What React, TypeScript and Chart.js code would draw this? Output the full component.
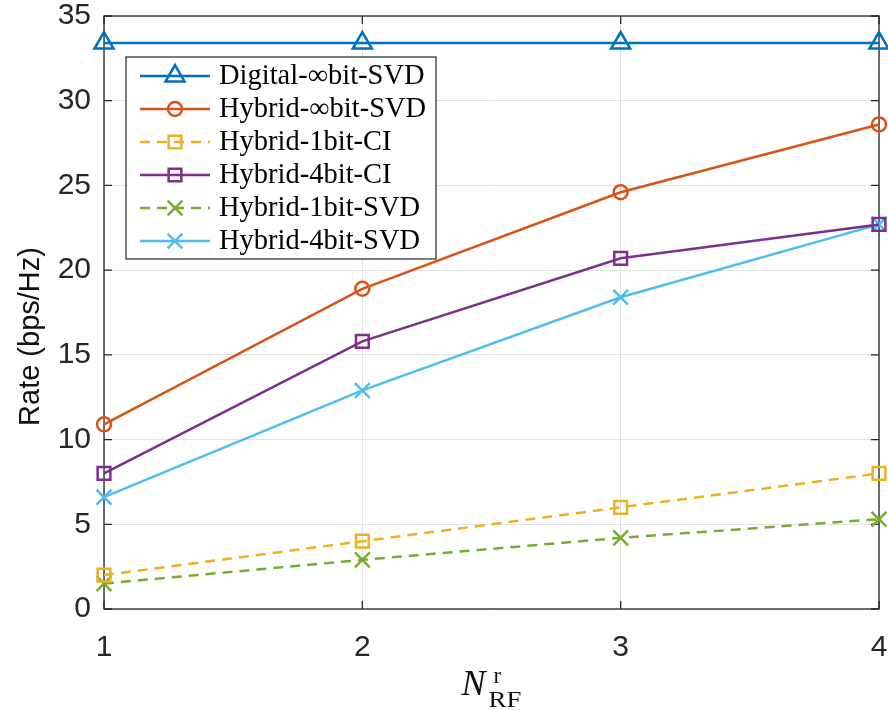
import React, { useEffect, useRef } from 'react';
import { Chart, registerables } from 'chart.js';

Chart.register(...registerables);

// ---- data ----
const categories = [1, 2, 3, 4];
const yTickValues = [0, 5, 10, 15, 20, 25, 30, 35];
const seriesLabels = [
  'Digital-\u221Ebit-SVD',
  'Hybrid-\u221Ebit-SVD',
  'Hybrid-1bit-CI',
  'Hybrid-4bit-CI',
  'Hybrid-1bit-SVD',
  'Hybrid-4bit-SVD',
];
const digitalInfSVD = [33.4, 33.4, 33.4, 33.4];
const hybridInfSVD = [10.9, 18.9, 24.6, 28.6];
const hybrid1bitCI = [2.0, 4.0, 6.0, 8.0];
const hybrid4bitCI = [8.0, 15.8, 20.7, 22.7];
const hybrid1bitSVD = [1.5, 2.9, 4.2, 5.3];
const hybrid4bitSVD = [6.6, 12.9, 18.4, 22.7];
const xTitleMain = 'N';
const xTitleSup = 'r';
const xTitleSub = 'RF';
const yTitle = 'Rate (bps/Hz)';

const AXIS_COLOR = '#262626';
const GRID_COLOR = '#e2e2e2';

function drawMarker(ctx: CanvasRenderingContext2D, style: string, x: number, y: number, r: number) {
  ctx.beginPath();
  if (style === 'circle') {
    ctx.arc(x, y, r, 0, Math.PI * 2);
  } else if (style === 'triangle') {
    let rad = 0;
    ctx.moveTo(x + Math.sin(rad) * r, y - Math.cos(rad) * r);
    rad += (2 * Math.PI) / 3;
    ctx.lineTo(x + Math.sin(rad) * r, y - Math.cos(rad) * r);
    rad += (2 * Math.PI) / 3;
    ctx.lineTo(x + Math.sin(rad) * r, y - Math.cos(rad) * r);
    ctx.closePath();
  } else if (style === 'rect') {
    const s = Math.SQRT1_2 * r;
    ctx.rect(x - s, y - s, 2 * s, 2 * s);
  } else if (style === 'crossRot') {
    const o = Math.cos(Math.PI / 4) * r;
    ctx.moveTo(x - o, y - o);
    ctx.lineTo(x + o, y + o);
    ctx.moveTo(x + o, y - o);
    ctx.lineTo(x - o, y + o);
  }
  ctx.stroke();
}

const boxPlugin = {
  id: 'matlabBox',
  beforeDatasetsDraw(chart: any) {
    const { ctx, chartArea: a, scales } = chart;
    ctx.save();
    ctx.strokeStyle = AXIS_COLOR;
    ctx.lineWidth = 1.3;
    ctx.strokeRect(a.left, a.top, a.right - a.left, a.bottom - a.top);
    const tl = 8;
    ctx.beginPath();
    scales.y.ticks.forEach((t: any) => {
      const py = scales.y.getPixelForValue(t.value);
      ctx.moveTo(a.left, py);
      ctx.lineTo(a.left + tl, py);
      ctx.moveTo(a.right, py);
      ctx.lineTo(a.right - tl, py);
    });
    scales.x.ticks.forEach((t: any) => {
      const px = scales.x.getPixelForValue(t.value);
      ctx.moveTo(px, a.bottom);
      ctx.lineTo(px, a.bottom - tl);
      ctx.moveTo(px, a.top);
      ctx.lineTo(px, a.top + tl);
    });
    ctx.stroke();
    ctx.restore();
  },
};

const legendPlugin = {
  id: 'matlabLegend',
  afterDatasetsDraw(chart: any) {
    const { ctx } = chart;
    const left = 126;
    const top = 57;
    const w = 310;
    const h = 202;
    const rowH = 33;
    const firstRow = top + 19;
    ctx.save();
    ctx.fillStyle = '#ffffff';
    ctx.fillRect(left, top, w, h);
    ctx.strokeStyle = AXIS_COLOR;
    ctx.lineWidth = 1.2;
    ctx.strokeRect(left, top, w, h);
    chart.data.datasets.forEach((ds: any, i: number) => {
      const y = firstRow + i * rowH;
      ctx.strokeStyle = ds.borderColor;
      ctx.lineWidth = ds.borderWidth;
      ctx.setLineDash(ds.borderDash || []);
      ctx.beginPath();
      ctx.moveTo(left + 14, y);
      ctx.lineTo(left + 84, y);
      ctx.stroke();
      ctx.setLineDash([]);
      ctx.lineWidth = ds.pointBorderWidth;
      drawMarker(ctx, ds.pointStyle, left + 49, y, ds.pointRadius);
      ctx.fillStyle = '#000000';
      ctx.font = '28.5px "Liberation Serif", "Times New Roman", serif';
      ctx.textBaseline = 'middle';
      ctx.textAlign = 'left';
      ctx.fillText(ds.label, left + 93, y + 1);
    });
    ctx.restore();
  },
};

const titlePlugin = {
  id: 'axisTitles',
  afterDraw(chart: any) {
    const { ctx, chartArea: a } = chart;
    ctx.save();
    // y title
    ctx.save();
    ctx.fillStyle = '#111111';
    ctx.font = '29px "Liberation Sans", Arial, sans-serif';
    ctx.textAlign = 'center';
    ctx.textBaseline = 'middle';
    ctx.translate(31, (a.top + a.bottom) / 2 + 24);
    ctx.rotate(-Math.PI / 2);
    ctx.fillText(yTitle, 0, 0);
    ctx.restore();
    // x title
    ctx.fillStyle = '#111111';
    ctx.textAlign = 'left';
    ctx.textBaseline = 'alphabetic';
    const mainFont = 'italic 36px "Liberation Serif", "Times New Roman", serif';
    const supFont = '23px "Liberation Serif", "Times New Roman", serif';
    const subFont = '24px "Liberation Serif", "Times New Roman", serif';
    const cx = (a.left + a.right) / 2;
    const x0 = cx - 30;
    ctx.font = mainFont;
    ctx.fillText(xTitleMain, x0, 695);
    ctx.font = supFont;
    ctx.fillText(xTitleSup, x0 + 32, 683);
    ctx.font = subFont;
    ctx.save();
    ctx.translate(x0 + 27, 707);
    ctx.scale(1.12, 1);
    ctx.fillText(xTitleSub, 0, 0);
    ctx.restore();
    ctx.restore();
  },
};

function makeDataset(label: string, values: number[], color: string, marker: string, radius: number, dashed: boolean) {
  return {
    label,
    data: categories.map((c, i) => ({ x: c, y: values[i] })),
    borderColor: color,
    backgroundColor: color,
    borderWidth: 2.5,
    borderDash: dashed ? [10, 7] : [],
    pointStyle: marker,
    pointRadius: radius,
    pointBorderWidth: 2.5,
    pointBorderColor: color,
    pointBackgroundColor: 'rgba(0,0,0,0)',
    pointHoverRadius: radius,
    tension: 0,
    clip: false,
    fill: false,
  };
}

export default function App() {
  const canvasRef = useRef<HTMLCanvasElement | null>(null);

  useEffect(() => {
    const canvas = canvasRef.current;
    if (!canvas) return;
    const chart = new Chart(canvas, {
      type: 'line',
      data: {
        datasets: [
          makeDataset(seriesLabels[0], digitalInfSVD, '#0072BD', 'triangle', 11, false),
          makeDataset(seriesLabels[1], hybridInfSVD, '#D95319', 'circle', 7, false),
          makeDataset(seriesLabels[2], hybrid1bitCI, '#EDB120', 'rect', 9, true),
          makeDataset(seriesLabels[3], hybrid4bitCI, '#7E2F8E', 'rect', 9, false),
          makeDataset(seriesLabels[4], hybrid1bitSVD, '#77AC30', 'crossRot', 10.5, true),
          makeDataset(seriesLabels[5], hybrid4bitSVD, '#4DBEEE', 'crossRot', 10.5, false),
        ] as any,
      },
      options: {
        responsive: false,
        animation: false,
        devicePixelRatio: 1,
        layout: { autoPadding: false, padding: { left: 0, top: 16, right: 9, bottom: 0 } },
        plugins: {
          legend: { display: false },
          tooltip: { enabled: false },
          title: { display: false },
        },
        scales: {
          x: {
            type: 'linear',
            min: categories[0],
            max: categories[categories.length - 1],
            afterFit: (s: any) => {
              s.height = 101;
              s.paddingLeft = 0;
              s.paddingRight = 0;
            },
            afterBuildTicks: (s: any) => {
              s.ticks = categories.map((v) => ({ value: v }));
            },
            ticks: {
              padding: 21,
              color: AXIS_COLOR,
              font: { family: '"Liberation Sans", Arial, sans-serif', size: 30 },
              maxRotation: 0,
              callback: (v: any) => String(v),
            },
            grid: { color: GRID_COLOR, lineWidth: 1, drawTicks: false },
            border: { display: false },
          },
          y: {
            type: 'linear',
            min: yTickValues[0],
            max: yTickValues[yTickValues.length - 1],
            afterFit: (s: any) => {
              s.width = 104;
              s.paddingTop = 0;
              s.paddingBottom = 0;
            },
            afterBuildTicks: (s: any) => {
              s.ticks = yTickValues.map((v) => ({ value: v }));
            },
            ticks: {
              padding: 13,
              color: AXIS_COLOR,
              font: { family: '"Liberation Sans", Arial, sans-serif', size: 30 },
              callback: (v: any) => String(v),
            },
            grid: { color: GRID_COLOR, lineWidth: 1, drawTicks: false },
            border: { display: false },
          },
        },
      } as any,
      plugins: [boxPlugin, legendPlugin, titlePlugin],
    });
    return () => chart.destroy();
  }, []);

  return (
    <div style={{ position: 'absolute', left: 0, top: 0, width: 888, height: 710, background: '#ffffff' }}>
      <canvas ref={canvasRef} width={888} height={710} style={{ width: 888, height: 710, display: 'block' }} />
    </div>
  );
}
